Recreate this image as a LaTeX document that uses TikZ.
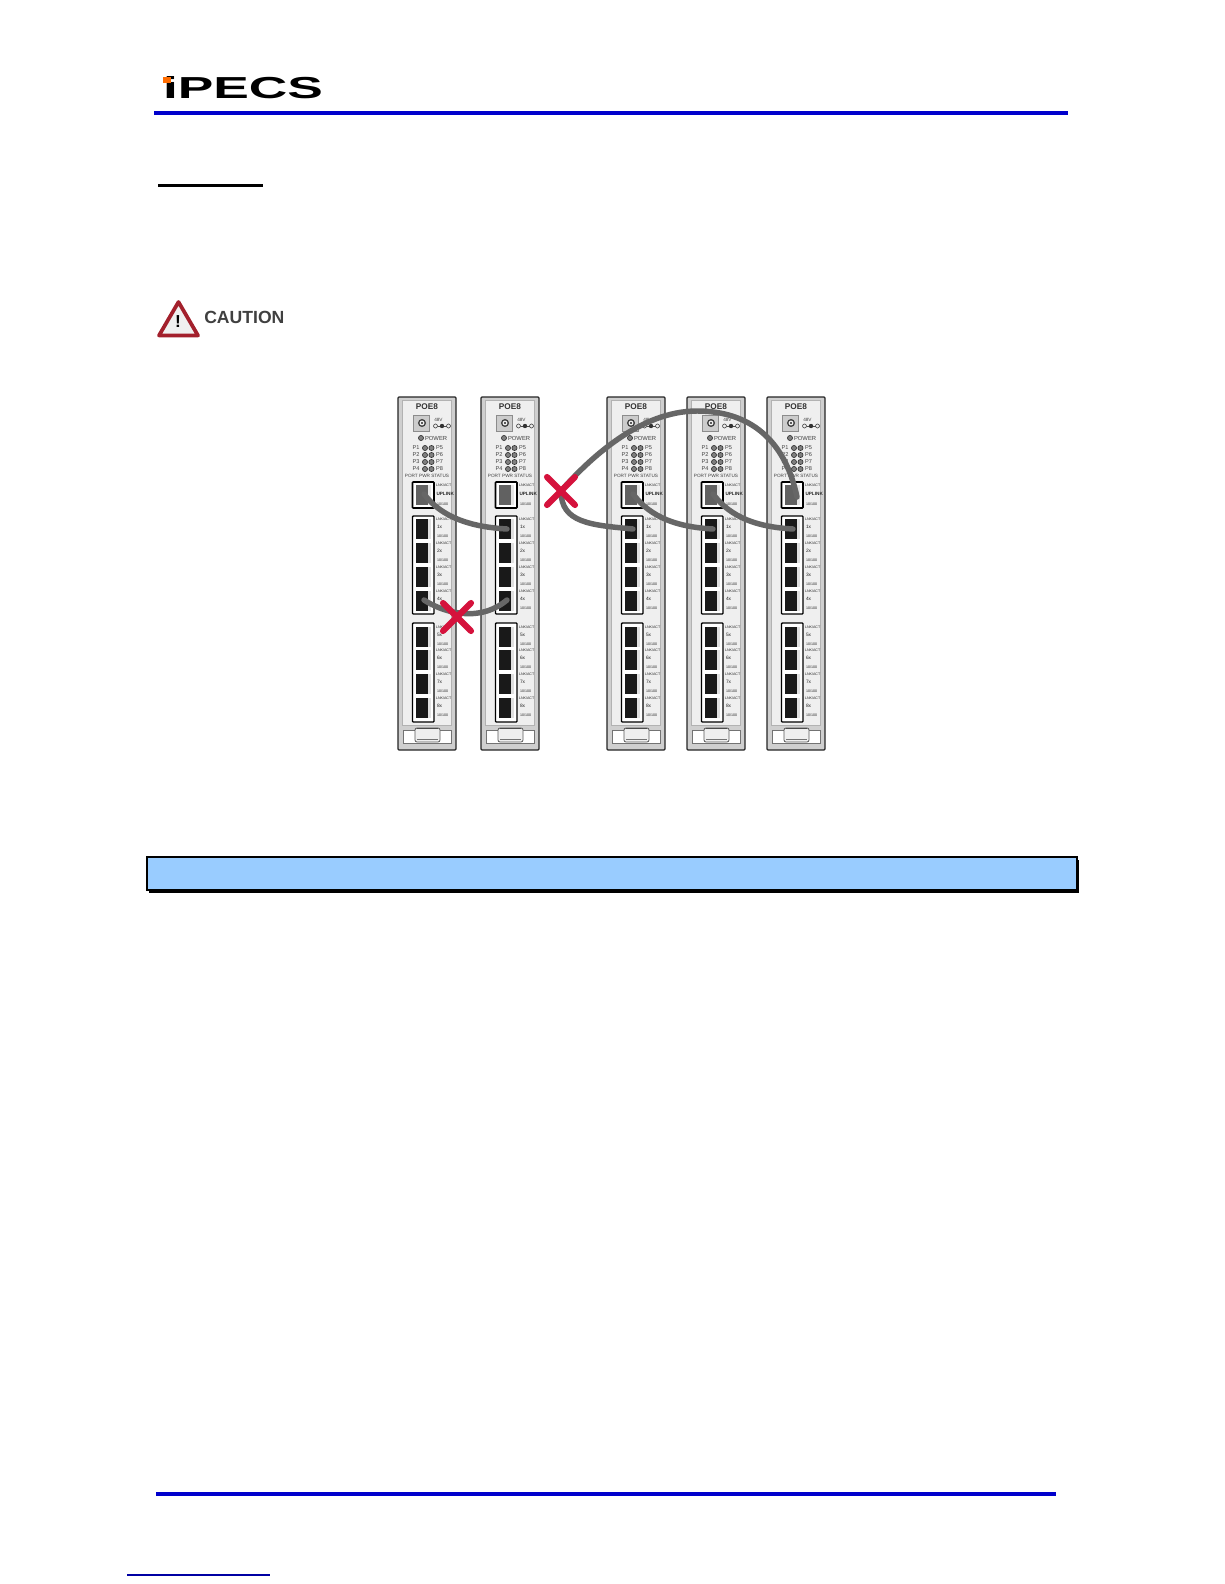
\documentclass[tikz,border=0pt]{standalone}
\usepackage{fontspec}
\setmainfont{Liberation Sans}
\definecolor{rulebl}{HTML}{0000CC}
\definecolor{barbl}{HTML}{99CCFF}
\definecolor{cablegr}{HTML}{666666}
\definecolor{xred}{HTML}{D5123C}
\definecolor{panelgr}{HTML}{CFCFCF}
\definecolor{panelin}{HTML}{EFEFEF}
\definecolor{cautred}{HTML}{A3202C}
\tikzset{
  x=0.75pt,y=-0.75pt,
  cable/.style={draw=cablegr,line width=4.1pt,line cap=round},
  crossx/.style={draw=xred,line width=4.6pt,line cap=round},
  rulebar/.style={draw=rulebl,line width=2.3pt},
  lab/.style={inner sep=0,outer sep=0,text=black!85,font=\fontsize{2.7}{2.7}\selectfont},
  labl/.style={lab,anchor=west},
  ledtxt/.style={inner sep=0,outer sep=0,text=black!75,font=\fontsize{4.2}{4.2}\selectfont},
  led/.style={circle,inner sep=0,minimum size=3.8pt,draw=black!80,fill=black!50,line width=.5pt},
  jackbox/.style={draw=black,line width=1pt,fill=white,rounded corners=.6pt},
  jackp/.style={draw=none,fill=black!90,inner sep=0,minimum width=11pt,minimum height=15pt},
  jackup/.style={jackp,fill=black!62,minimum height=14.5pt},
  poe/.pic={
    \path[fill=panelgr,draw=black!85,line width=.9pt,rounded corners=.8pt] (0,0) rectangle (58,353);
    \path[fill=panelin,draw=black!30,line width=.4pt] (4.5,3.5) rectangle (53.5,328);
    \node[inner sep=0,font=\bfseries\fontsize{6.2}{6.2}\selectfont,text=black!80] (-title) at (29,9.5) {POE8};
    \path[fill=black!20,draw=black!45,line width=.5pt] (15,18) rectangle (31,34);
    \path[fill=white,draw=black!75,line width=1pt] (24,26) circle (3.3);
    \fill[black!70] (24,26) circle (1.3);
    \node[inner sep=0,anchor=west,font=\fontsize{3.5}{3.5}\selectfont,text=black!75] (-v) at (36,23) {48V};
    \draw[black!70,line width=.5pt] (37.5,29) circle (2) (50.5,29) circle (2);
    \draw[black!70,line width=.5pt] (39.5,29) -- (48.5,29);
    \fill[black!80] (44,29) circle (2.2);
    \node[led] (-pl) at (23,41) {};
    \node[ledtxt,anchor=west,font=\fontsize{4.4}{4.4}\selectfont] (-pw) at (27,41) {POWER};
    \foreach \r/\yy/\a/\b in {1/51/P1/P5,2/58/P2/P6,3/65/P3/P7,4/72/P4/P8}{
      \node[ledtxt] (-a\r) at (18,\yy) {\a};
      \node[led] (-la\r) at (27,\yy) {};
      \node[led] (-lb\r) at (33.5,\yy) {};
      \node[ledtxt] (-b\r) at (41.5,\yy) {\b};
    }
    \node[ledtxt,font=\fontsize{3.5}{3.5}\selectfont] (-st) at (29,78.5) {PORT PWR STATUS};
    \path[jackbox,line width=1.2pt] (14.5,85) rectangle (36,111);
    \node[jackup] (-ju) at (25.5,98) {};
    \fill[black!10] (30,88) rectangle (33,108);
    \node[labl] (-u1) at (38,88.5) {LNK/ACT};
    \node[labl,text=black!85,font=\bfseries\fontsize{3.5}{3.5}\selectfont] (-u2) at (38.5,97) {UPLINK};
    \node[labl] (-u3) at (39,107) {10/100};
    \path[jackbox] (14.5,119) rectangle (36,217);
    \path[jackbox] (14.5,226) rectangle (36,325);
    \foreach \i/\yy in {1/132,2/156,3/180,4/204,5/240,6/263,7/287,8/311}{
      \node[jackp] (-j\i) at (25.5,\yy) {};
      \fill[black!12] (30,\yy-10) rectangle (33,\yy+10);
      \node[labl] (-t\i) at (38,\yy-10) {LNK/ACT};
      \node[labl,font=\fontsize{3.6}{3.6}\selectfont] (-m\i) at (39,\yy-2) {\i x};
      \node[labl] (-d\i) at (39,\yy+7) {10/100};
    }
    \path[fill=white,draw=black!55,line width=.5pt] (5,333) rectangle (53,346);
    \path[fill=panelin,draw=black!65,line width=.6pt,rounded corners=1.5pt] (17,331) rectangle (42,345);
    \draw[black!55,line width=.7pt] (19,342) -- (40,342);
    \draw[black!70,line width=.8pt] (19,331.5) -- (40,331.5);
    \coordinate (-up) at (26,97);
    \coordinate (-p1) at (26,132);
    \coordinate (-p4) at (26,203);
    \coordinate (-upr) at (30,100);
  }
}
\begin{document}
\begin{tikzpicture}
\useasboundingbox[fill=white] (0,0) rectangle (1224,1584);

% header
\node[inner sep=0,anchor=north west,outer sep=0] (logo) at (163,77) {\resizebox{160\dimexpr0.75pt\relax}{22\dimexpr0.75pt\relax}{\bfseries iPECS}};
\fill[orange!85!red] (163,77) rectangle (170.5,83);
\draw[rulebar] (154,113) -- (1068,113);
\draw[black,line width=2.4pt] (158,185.5) -- (263,185.5);

% caution
\path[fill=black!6,draw=cautred,line width=2.8pt,line join=round] (178.5,302) -- (198,335.5) -- (159,335.5) -- cycle;
\node[inner sep=0,font=\bfseries\fontsize{13}{13}\selectfont] (bang) at (178,322) {!};
\node[inner sep=0,anchor=west,text=black!75,font=\bfseries\fontsize{13.2}{14}\selectfont] (caut) at (204,317) {CAUTION};

% modules
\pic (m1) at (398,397) {poe};
\pic (m2) at (481,397) {poe};
\pic (m3) at (607,397) {poe};
\pic (m4) at (687,397) {poe};
\pic (m5) at (767,397) {poe};

% crosses
\coordinate (x1) at (457,617);
\coordinate (x2) at (561,491);

% cables
\draw[cable] (m1-up) .. controls +(18,24) and +(-35,-2) .. (m2-p1);
\draw[cable] (m1-p4) .. controls +(15,10) and +(-30,25) .. (m2-p4);
\draw[cable] (x2) .. controls +(28,-32) and +(-57,0) .. (697,411) .. controls +(53,0) and +(-12,-57) .. (m5-upr);
\draw[cable] (x2) .. controls +(0,32) and +(-42,-4) .. (m3-p1);
\draw[cable] (m3-up) .. controls +(18,24) and +(-35,-2) .. (m4-p1);
\draw[cable] (m4-up) .. controls +(18,24) and +(-35,-2) .. (m5-p1);

\draw[crossx] (x1) +(-14,-14) -- +(14,14) (x1) +(-14,14) -- +(14,-14);
\draw[crossx] (x2) +(-14,-14) -- +(14,14) (x2) +(-14,14) -- +(14,-14);

% blue bar
\fill[black] (149,860) rectangle (1079,893);
\path[fill=barbl,draw=black,line width=.9pt] (147,857) rectangle (1077,890);

% footer
\draw[rulebar] (156,1494) -- (1056,1494);
\draw[draw=rulebl!80!black,line width=.8pt] (127,1575) -- (270,1575);
\end{tikzpicture}
\end{document}
